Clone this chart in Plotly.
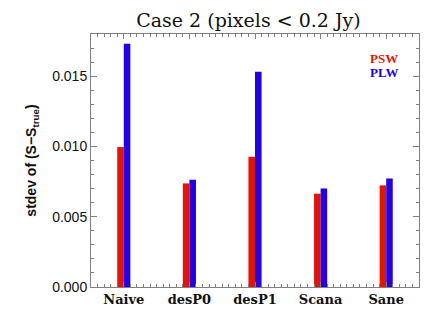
import plotly.graph_objects as go

categories = ["Naive", "desP0", "desP1", "Scana", "Sane"]
psw = [0.00996, 0.00737, 0.00927, 0.00664, 0.00723]
plw = [0.01730, 0.00763, 0.01531, 0.00701, 0.00772]
yticks = [0.000, 0.005, 0.010, 0.015]
ytick_labels = ["0.000", "0.005", "0.010", "0.015"]

RED = "#e51400"
BLUE = "#2200ee"
AX = "#808080"

xpos = list(range(len(categories)))

fig = go.Figure()
fig.add_trace(go.Bar(x=xpos, y=psw, width=0.1, offset=-0.1,
                     marker=dict(color=RED, line=dict(width=0)), name="PSW"))
fig.add_trace(go.Bar(x=xpos, y=plw, width=0.1, offset=0.0,
                     marker=dict(color=BLUE, line=dict(width=0)), name="PLW"))

fig.add_annotation(x=3.97, y=0.01626, xref="x", yref="y", text="<b>PSW</b>",
                   showarrow=False, font=dict(family="Liberation Serif", size=13, color=RED))
fig.add_annotation(x=3.97, y=0.01524, xref="x", yref="y", text="<b>PLW</b>",
                   showarrow=False, font=dict(family="Liberation Serif", size=13, color=BLUE))

fig.update_layout(
    width=436, height=332,
    margin=dict(l=83, r=25, t=26, b=53),
    paper_bgcolor="white", plot_bgcolor="white",
    showlegend=False,
    title=dict(text="Case 2 (pixels < 0.2 Jy)", xref="paper", x=0.48, xanchor="center",
               yref="container", y=0.962, yanchor="middle",
               font=dict(family="DejaVu Serif", size=19, color="#111")),
    xaxis=dict(range=[-0.5, 4.5], tickvals=xpos, ticktext=[f"<b>{c}</b>" for c in categories],
               ticks="inside", ticklen=5, tickcolor=AX, showline=True, linecolor=AX,
               linewidth=1, mirror="ticks", showgrid=False, zeroline=False,
               tickfont=dict(family="DejaVu Serif", size=13, color="#111"),
               minor=dict(dtick=0.1, tick0=-0.5, ticks="inside", ticklen=3,
                          tickcolor=AX, showgrid=False)),
    yaxis=dict(range=[0, 0.018], tickvals=yticks, ticktext=ytick_labels,
               ticks="inside", ticklen=6, tickcolor=AX, showline=True, linecolor=AX,
               linewidth=1, mirror="ticks", showgrid=False, zeroline=False,
               tickfont=dict(family="Liberation Sans", size=14, color="#111"),
               minor=dict(dtick=0.001, tick0=0, ticks="inside", ticklen=3,
                          tickcolor=AX, showgrid=False),
               title=dict(text="<b>stdev of (S\u2212S<sub>true</sub>)</b>",
                          font=dict(family="Liberation Sans", size=14, color="#111"),
                          standoff=12)),
)

fig.write_html("out.html")
